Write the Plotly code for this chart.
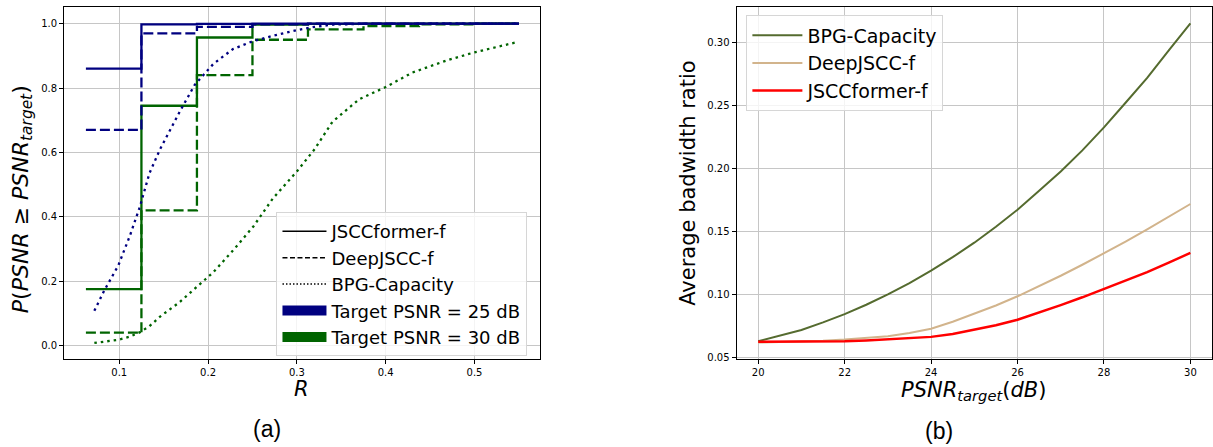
import plotly.graph_objects as go

# ---------------- (a) probability of meeting the PSNR target vs. R ----------------
R_steps = [0.0625, 0.125, 0.1875, 0.25, 0.3125, 0.375, 0.4375, 0.5, 0.55]

jscc_former_25 = [0.86, 0.998, 0.999, 1.0, 1.0, 1.0, 1.0, 1.0, 1.0]
deep_jscc_25 = [0.67, 0.97, 0.99, 0.998, 1.0, 1.0, 1.0, 1.0, 1.0]
jscc_former_30 = [0.175, 0.745, 0.957, 0.997, 0.999, 1.0, 1.0, 1.0, 1.0]
deep_jscc_30 = [0.04, 0.42, 0.84, 0.95, 0.982, 0.992, 0.998, 1.0, 1.0]

R_bpg = [0.072, 0.083, 0.099, 0.112, 0.123, 0.134, 0.146, 0.168, 0.185, 0.206,
         0.228, 0.251, 0.273, 0.3, 0.32, 0.34, 0.37, 0.40, 0.43, 0.47, 0.50, 0.547]
bpg_25 = [0.108, 0.17, 0.249, 0.341, 0.429, 0.535, 0.61, 0.726, 0.81, 0.875,
          0.921, 0.946, 0.962, 0.98, 0.99, 0.997, 0.999, 1.0, 1.0, 1.0, 1.0, 1.0]
bpg_30 = [0.008, 0.012, 0.018, 0.028, 0.041, 0.06, 0.09, 0.135, 0.178, 0.228,
          0.295, 0.37, 0.457, 0.541, 0.61, 0.695, 0.765, 0.803, 0.848, 0.887, 0.911, 0.942]

x_ticks_a = [0.1, 0.2, 0.3, 0.4, 0.5]
y_ticks_a = [0.0, 0.2, 0.4, 0.6, 0.8, 1.0]

# ---------------- (b) average bandwidth ratio vs. target PSNR ----------------
psnr_target = [20, 20.5, 21, 21.5, 22, 22.5, 23, 23.5, 24, 24.5, 25,
               25.5, 26, 26.5, 27, 27.5, 28, 28.5, 29, 29.5, 30]
bpg_capacity = [0.0628, 0.067, 0.0718, 0.0778, 0.0843, 0.0918, 0.1, 0.109, 0.1188, 0.1295, 0.141,
                0.1537, 0.1672, 0.1822, 0.1975, 0.2142, 0.2325, 0.252, 0.2717, 0.2935, 0.315]
deep_jscc_f = [0.0618, 0.0622, 0.0626, 0.0633, 0.0642, 0.0653, 0.0668, 0.0693, 0.0728, 0.0783, 0.0845,
               0.0912, 0.0985, 0.1065, 0.1148, 0.1235, 0.1326, 0.1418, 0.1515, 0.1615, 0.1717]
jscc_former_f = [0.0625, 0.0625, 0.0625, 0.0626, 0.0628, 0.0634, 0.0642, 0.0651, 0.0663, 0.0686, 0.072,
                 0.0755, 0.0799, 0.0855, 0.0915, 0.0977, 0.1043, 0.1108, 0.1177, 0.1252, 0.1329]

x_ticks_b = [20, 22, 24, 26, 28, 30]
y_ticks_b = [0.05, 0.10, 0.15, 0.20, 0.25, 0.30]

W, H = 1213, 447
NAVY = "#000080"
GREEN = "#006400"
FONT = "DejaVu Sans"
DASH = "10px,4px"
DOT = "2.5px,4px"

fig = go.Figure()

# ---- panel (a) curves ----
def step(x, y, color, dash, name):
    fig.add_trace(go.Scatter(x=x, y=y, mode="lines", line_shape="hv",
                             line=dict(color=color, width=2.3, dash=dash),
                             name=name, showlegend=False, xaxis="x", yaxis="y"))

def curve(x, y, color, name):
    fig.add_trace(go.Scatter(x=x, y=y, mode="lines",
                             line=dict(color=color, width=2.3, dash=DOT),
                             name=name, showlegend=False, xaxis="x", yaxis="y"))

curve(R_bpg, bpg_30, GREEN, "BPG 30 dB")
step(R_steps, deep_jscc_30, GREEN, DASH, "DeepJSCC-f 30 dB")
step(R_steps, jscc_former_30, GREEN, "solid", "JSCCformer-f 30 dB")
curve(R_bpg, bpg_25, NAVY, "BPG 25 dB")
step(R_steps, deep_jscc_25, NAVY, DASH, "DeepJSCC-f 25 dB")
step(R_steps, jscc_former_25, NAVY, "solid", "JSCCformer-f 25 dB")

# legend entries for panel (a)
for name, color, width, dash in [
    ("JSCCformer-f", "black", 1.5, "solid"),
    ("DeepJSCC-f", "black", 1.5, "5px,2.5px"),
    ("BPG-Capacity", "black", 1.5, "1.5px,2px"),
    ("Target PSNR = 25 dB", NAVY, 14, "solid"),
    ("Target PSNR = 30 dB", GREEN, 14, "solid"),
]:
    fig.add_trace(go.Scatter(x=[None], y=[None], mode="lines", name=name,
                             line=dict(color=color, width=width, dash=dash),
                             legend="legend", xaxis="x", yaxis="y"))

# ---- panel (b) curves ----
for name, vals, color, width in [
    ("BPG-Capacity", bpg_capacity, "#556B2F", 2),
    ("DeepJSCC-f", deep_jscc_f, "#D2B48C", 2),
    ("JSCCformer-f", jscc_former_f, "#FF0000", 2.5),
]:
    fig.add_trace(go.Scatter(x=psnr_target, y=vals, mode="lines", name=name,
                             line=dict(color=color, width=width),
                             legend="legend2", xaxis="x2", yaxis="y2"))

axis_common = dict(showline=True, linecolor="black", linewidth=1, mirror=True,
                   ticks="outside", ticklen=4, tickwidth=1, tickcolor="black",
                   showgrid=True, gridcolor="#c6c6c6", gridwidth=1, zeroline=False,
                   tickfont=dict(family=FONT, size=10, color="black"))

fig.update_layout(
    width=W, height=H,
    margin=dict(l=0, r=0, t=0, b=0),
    paper_bgcolor="white", plot_bgcolor="white",
    xaxis=dict(domain=[64.2 / W, 540.7 / W], range=[0.038, 0.574], anchor="y",
               tickvals=x_ticks_a, ticktext=[f"{v:.1f}" for v in x_ticks_a], **axis_common),
    yaxis=dict(domain=[1 - 362 / H, 1 - 7.3 / H], range=[-0.041, 1.051], anchor="x",
               tickvals=y_ticks_a, ticktext=[f"{v:.1f}" for v in y_ticks_a], **axis_common),
    xaxis2=dict(domain=[737.2 / W, 1.0], range=[19.5, 30.5], anchor="y2",
                tickvals=x_ticks_b, ticktext=[str(v) for v in x_ticks_b], **axis_common),
    yaxis2=dict(domain=[1 - 361.8 / H, 1 - 7.4 / H], range=[0.0491, 0.3277], anchor="x2",
                tickvals=y_ticks_b, ticktext=[f"{v:.2f}" for v in y_ticks_b], **axis_common),
    legend=dict(x=276.7 / W, y=1 - 214 / H, xanchor="left", yanchor="top",
                bgcolor="rgba(255,255,255,0.8)", bordercolor="#d6d6d6", borderwidth=1,
                font=dict(family=FONT, size=18, color="black"), itemwidth=44,
                tracegroupgap=0),
    legend2=dict(x=747 / W, y=1 - 15.5 / H, xanchor="left", yanchor="top",
                 bgcolor="rgba(255,255,255,0.8)", bordercolor="#d6d6d6", borderwidth=1,
                 font=dict(family=FONT, size=19, color="black"), itemwidth=50,
                 tracegroupgap=0),
    showlegend=True,
)

notes = [
    dict(text="<i>P</i>(<i>PSNR</i> ≥ <i>PSNR</i><sub><i>target</i></sub>)",
         x=22 / W, y=1 - 201 / H, textangle=-90, size=22, family=FONT),
    dict(text="<i>R</i>", x=302 / W, y=1 - 393 / H, textangle=0, size=21, family=FONT),
    dict(text="(a)", x=267 / W, y=1 - 433 / H, textangle=0, size=23, family="Liberation Sans"),
    dict(text="Average badwidth ratio", x=689 / W, y=1 - 185 / H, textangle=-90, size=21, family=FONT),
    dict(text="<i>PSNR</i><sub><i>target</i></sub>(<i>dB</i>)", x=974 / W, y=1 - 395 / H,
         textangle=0, size=21, family=FONT),
    dict(text="(b)", x=940 / W, y=1 - 435 / H, textangle=0, size=23, family="Liberation Sans"),
]
for n in notes:
    fig.add_annotation(text=n["text"], x=n["x"], y=n["y"], xref="paper", yref="paper",
                       xanchor="center", yanchor="middle", textangle=n["textangle"],
                       showarrow=False, font=dict(family=n["family"], size=n["size"], color="black"))

fig.write_html("out.html")
